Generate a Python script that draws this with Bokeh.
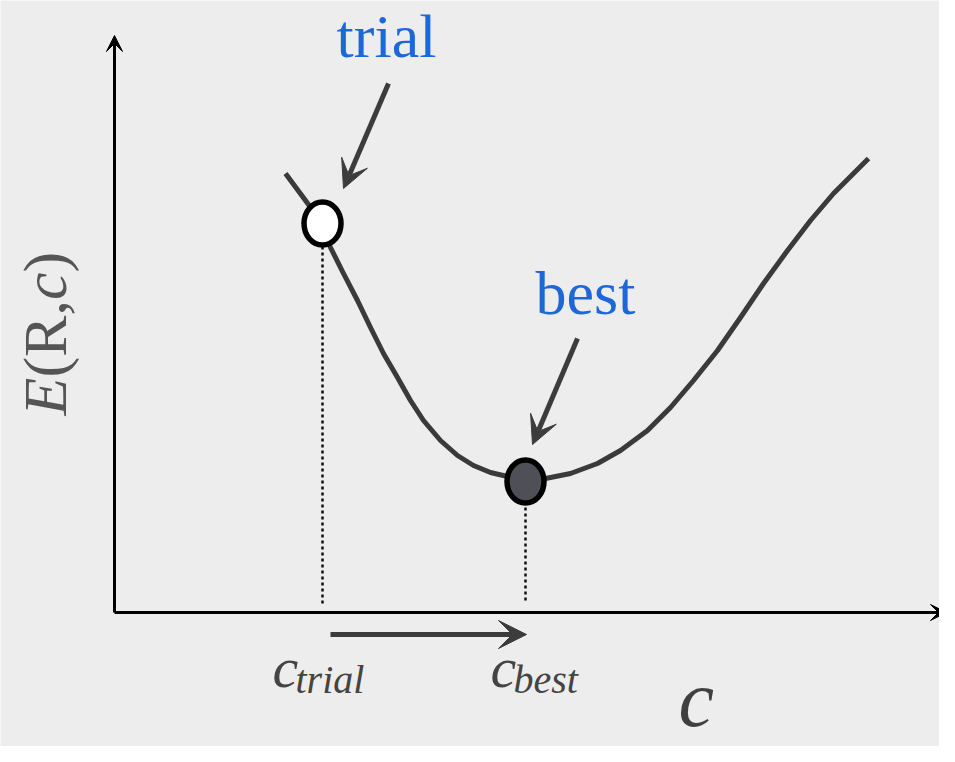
import math
from bokeh.plotting import figure
from bokeh.models import Range1d, Arrow, VeeHead, Label
from bokeh.embed import file_html
from bokeh.resources import INLINE

# ---- data (arbitrary units: c along x, E(R,c) along y) ----
c_values = [1.71, 1.91, 2.08, 2.16, 2.29, 2.43, 2.56, 2.69, 2.83, 2.96, 3.09,
            3.26, 3.43, 3.59, 3.76, 3.93, 4.11, 4.31, 4.56, 4.83, 5.06, 5.33,
            5.56, 5.79, 6.03, 6.26, 6.49, 6.73, 6.96, 7.19, 7.39, 7.54]
E_values = [4.39, 4.12, 3.89, 3.65, 3.39, 3.12, 2.85, 2.59, 2.35, 2.12, 1.92,
            1.72, 1.57, 1.47, 1.40, 1.36, 1.31, 1.34, 1.39, 1.49, 1.62, 1.82,
            2.05, 2.32, 2.62, 2.95, 3.29, 3.62, 3.92, 4.19, 4.39, 4.54]
point_names = ["trial", "best"]
point_c = [2.08, 4.11]
point_E = [3.89, 1.31]
point_fill = ["#ffffff", "#4f4f57"]

# ---- layout helpers (page pixel -> data units) ----
def X(px):
    return (px - 114) / 100.0

def Y(py):
    return (612 - py) / 100.0

def base(py, size):
    # visual baseline at page pixel py for a font of the given px size
    return Y(py - 0.36 * size)

W, H = 939, 746
p = figure(width=W, height=H,
           x_range=Range1d(X(0), X(W)), y_range=Range1d(Y(H), Y(0)),
           x_axis_location=None, y_axis_location=None,
           output_backend="svg", toolbar_location=None, min_border=0)
p.grid.visible = False
p.outline_line_color = None
p.background_fill_color = "#ededed"
p.border_fill_color = "#ededed"

# axes with arrow heads
p.add_layout(Arrow(end=VeeHead(size=16, fill_color="black", line_color="black", line_width=1),
                   x_start=0, y_start=0, x_end=0, y_end=Y(35),
                   line_width=3, line_color="black"))
p.add_layout(Arrow(end=VeeHead(size=16, fill_color="black", line_color="black", line_width=1),
                   x_start=0, y_start=0, x_end=X(946), y_end=0,
                   line_width=3, line_color="black"))

# dotted drop lines
p.segment(x0=point_c, y0=[0.09, 0.12], x1=point_c, y1=point_E,
          line_color="#111111", line_width=2.5, line_dash="3 3")

# curve
p.line(c_values, E_values, line_color="#3a3a3a", line_width=5,
       line_join="round", line_cap="butt")

# points
p.ellipse(x=point_c, y=point_E, width=37, height=43,
          width_units="screen", height_units="screen",
          fill_color=point_fill, line_color="black", line_width=5.5)

# pointer arrows (offsets relative to the marked points)
arrow_col = "#3c3c3c"
ptr = [(0.66, 1.40, 0.21, 0.35), (0.52, 1.43, 0.07, 0.37)]
for (c, e), (sx, sy, tx, ty) in zip(zip(point_c, point_E), ptr):
    p.add_layout(Arrow(end=VeeHead(size=28, fill_color=arrow_col, line_color=arrow_col, line_width=1),
                       x_start=c + sx, y_start=e + sy, x_end=c + tx, y_end=e + ty,
                       line_width=5, line_color=arrow_col))

# move arrow under x axis
p.add_layout(Arrow(end=VeeHead(size=28, fill_color=arrow_col, line_color=arrow_col, line_width=1),
                   x_start=point_c[0] + 0.08, y_start=Y(634), x_end=point_c[1] + 0.01, y_end=Y(634),
                   line_width=5, line_color=arrow_col))

# blue labels
blue = "#1c68d8"
bsize = 62
p.add_layout(Label(x=X(386), y=base(58, bsize), text="trial", text_align="center",
                   text_baseline="alphabetic", text_font="Liberation Serif",
                   text_font_size=f"{bsize}px", text_color=blue))
p.add_layout(Label(x=X(585), y=base(315, bsize), text="best", text_align="center",
                   text_baseline="alphabetic", text_font="Liberation Serif",
                   text_font_size=f"{bsize}px", text_color=blue))

# tick-like labels c_trial / c_best
lab_col = "#444444"
c_offsets = [-50, -35]
for name, c, off in zip(point_names, point_c, c_offsets):
    left = 114 + c * 100 + off
    p.add_layout(Label(x=X(left), y=base(688, 58), text="c", text_align="left",
                       text_baseline="alphabetic", text_font="Liberation Serif",
                       text_font_style="italic", text_font_size="58px", text_color=lab_col))
    p.add_layout(Label(x=X(left + 23), y=base(693, 40), text=name, text_align="left",
                       text_baseline="alphabetic", text_font="Liberation Serif",
                       text_font_style="italic", text_font_size="40px", text_color=lab_col))

# x-axis title
p.add_layout(Label(x=X(678), y=base(727, 80), text="c", text_align="left",
                   text_baseline="alphabetic", text_font="Liberation Serif",
                   text_font_style="italic", text_font_size="80px", text_color="#404040"))

# y-axis title E(R,c), rotated, built from pieces
size = 62
pieces = [("E", "italic", 0.611), ("(", "normal", 0.333), ("R", "normal", 0.667),
          (",", "normal", 0.25), ("c", "italic", 0.444), (")", "normal", 0.333)]
ypos = 415.0
for txt, style, adv in pieces:
    p.add_layout(Label(x=X(44), y=Y(ypos), text=txt, angle=math.pi / 2,
                       text_align="left", text_baseline="alphabetic",
                       text_font="Liberation Serif", text_font_style=style,
                       text_font_size=f"{size}px", text_color="#555555"))
    ypos -= adv * size

open("out.html", "w").write(file_html(p, INLINE))
